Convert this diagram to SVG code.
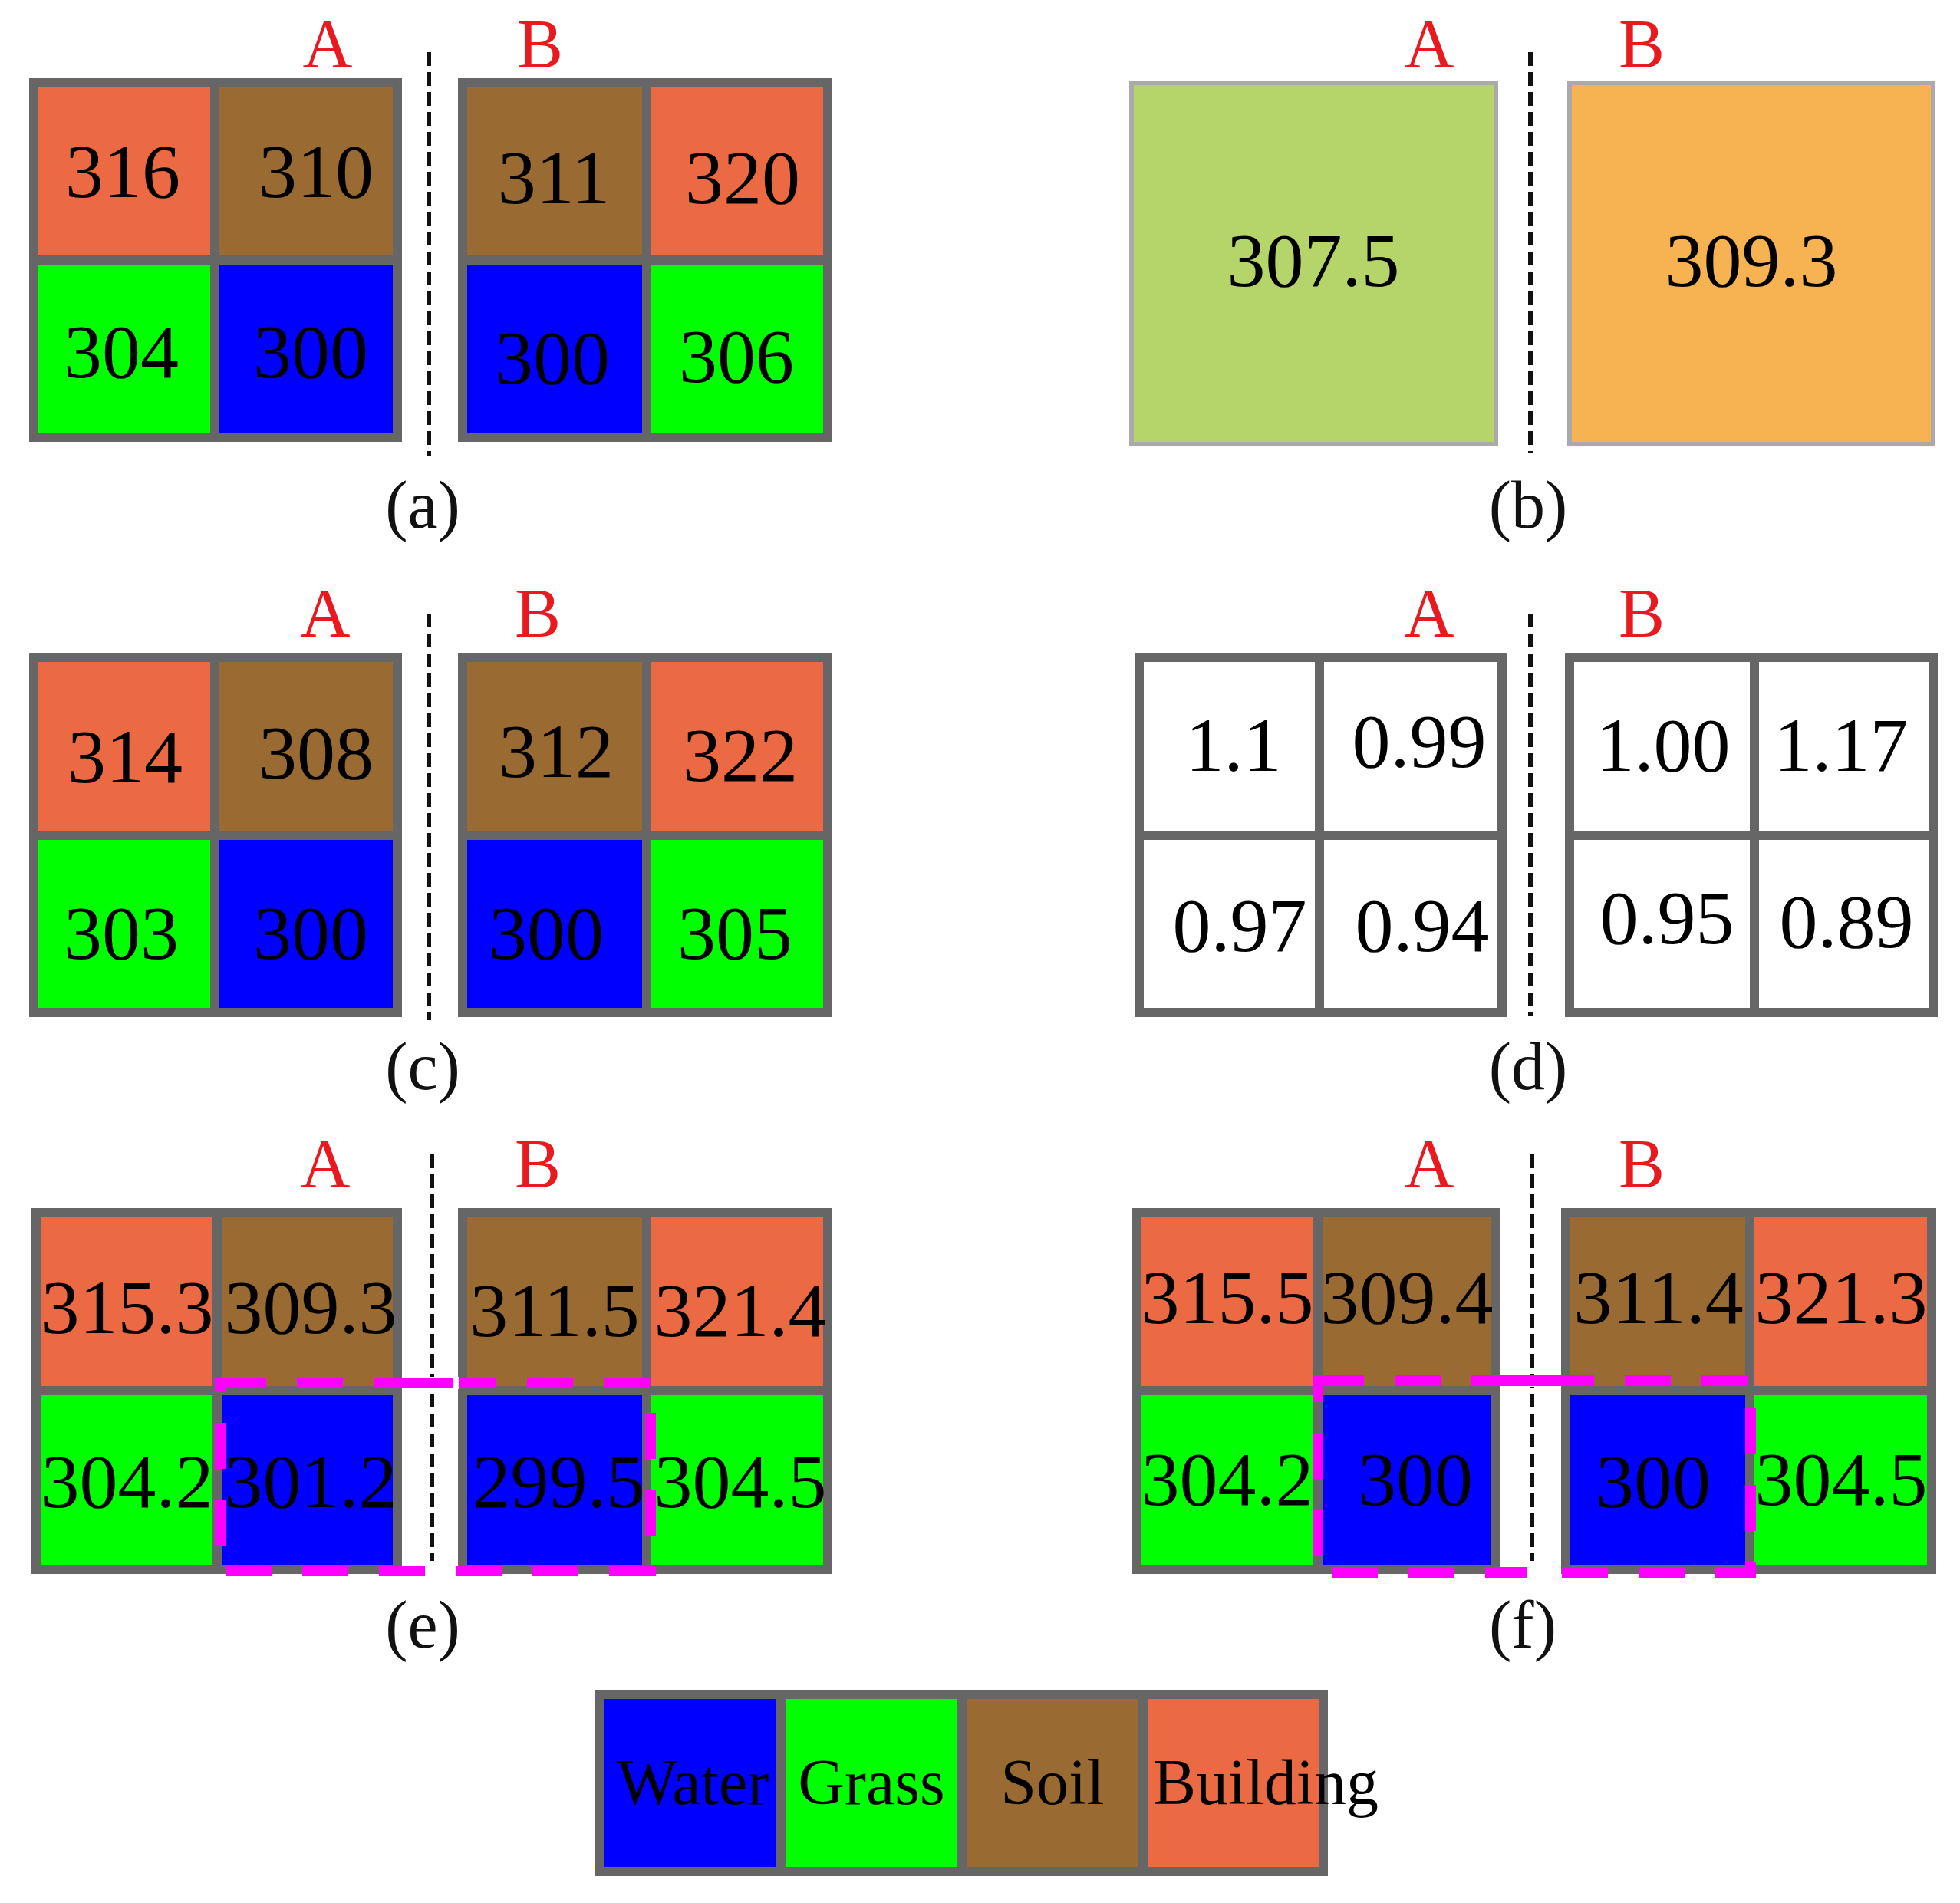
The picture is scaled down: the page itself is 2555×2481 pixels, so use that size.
<svg xmlns="http://www.w3.org/2000/svg" width="2555" height="2481" viewBox="0 0 2555 2481">
<style>
text{font-family:"Liberation Serif","Times New Roman",serif;text-anchor:middle}
.n{font-size:100px;fill:#000}
.ab{font-size:90px;fill:#e8191f}
.cap{font-size:88px;fill:#111}
.g{stroke:#666;stroke-width:12;fill:none}
.W{fill:#0000ff}.G{fill:#00ff00}.S{fill:#9a6a33}.B{fill:#ec6a43}.X{fill:#fff}
.dash{stroke:#111;stroke-width:6;stroke-dasharray:18 8}
.mag{stroke:#ff00ff;stroke-width:14;fill:none;stroke-dasharray:60 40}
</style>
<rect width="2555" height="2481" fill="#fff"/>
<g id="connectors">
<line class="dash" x1="559" y1="68" x2="559" y2="595"/>
<line class="dash" x1="1995" y1="68" x2="1995" y2="590"/>
<line class="dash" x1="559" y1="800" x2="559" y2="1330"/>
<line class="dash" x1="1995" y1="800" x2="1995" y2="1325"/>
<line class="dash" x1="563" y1="1505" x2="563" y2="2035"/>
<line class="dash" x1="1997" y1="1505" x2="1997" y2="2035"/>
</g>
<g id="panel-a">
<rect class="B" x="44" y="108" width="236" height="231"/><rect class="S" x="280" y="108" width="238" height="231"/>
<rect class="G" x="44" y="339" width="236" height="231"/><rect class="W" x="280" y="339" width="238" height="231"/>
<rect class="g" x="44" y="108" width="474" height="462"/><path class="g" d="M280 108V570M44 339H518"/>
<rect class="S" x="603" y="108" width="240" height="231"/><rect class="B" x="843" y="108" width="236" height="231"/>
<rect class="W" x="603" y="339" width="240" height="231"/><rect class="G" x="843" y="339" width="236" height="231"/>
<rect class="g" x="603" y="108" width="476" height="462"/><path class="g" d="M843 108V570M603 339H1079"/>
<text class="n" x="160" y="257">316</text><text class="n" x="412" y="257">310</text>
<text class="n" x="722" y="265">311</text><text class="n" x="968" y="265">320</text>
<text class="n" x="158" y="492">304</text><text class="n" x="405" y="492">300</text>
<text class="n" x="720" y="500">300</text><text class="n" x="960" y="498">306</text>
<text class="ab" x="427" y="88">A</text><text class="ab" x="704" y="88">B</text>
<text class="cap" x="551" y="688">(a)</text>
</g>
<g id="panel-b">
<rect x="1475" y="108" width="475" height="471" fill="#b5d56a" stroke="#aaa" stroke-width="6"/>
<rect x="2046" y="108" width="474" height="471" fill="#f7b352" stroke="#aaa" stroke-width="6"/>
<text class="n" x="1712" y="373">307.5</text><text class="n" x="2283" y="373">309.3</text>
<text class="ab" x="1863" y="88">A</text><text class="ab" x="2140" y="88">B</text>
<text class="cap" x="1992" y="688">(b)</text>
</g>
<g id="panel-c">
<rect class="B" x="44" y="857" width="236" height="232"/><rect class="S" x="280" y="857" width="238" height="232"/>
<rect class="G" x="44" y="1089" width="236" height="231"/><rect class="W" x="280" y="1089" width="238" height="231"/>
<rect class="g" x="44" y="857" width="474" height="463"/><path class="g" d="M280 857V1320M44 1089H518"/>
<rect class="S" x="603" y="857" width="240" height="232"/><rect class="B" x="843" y="857" width="236" height="232"/>
<rect class="W" x="603" y="1089" width="240" height="231"/><rect class="G" x="843" y="1089" width="236" height="231"/>
<rect class="g" x="603" y="857" width="476" height="463"/><path class="g" d="M843 857V1320M603 1089H1079"/>
<text class="n" x="163" y="1020">314</text><text class="n" x="412" y="1015">308</text>
<text class="n" x="725" y="1013">312</text><text class="n" x="965" y="1018">322</text>
<text class="n" x="158" y="1250">303</text><text class="n" x="405" y="1250">300</text>
<text class="n" x="712" y="1250">300</text><text class="n" x="958" y="1250">305</text>
<text class="ab" x="424" y="830">A</text><text class="ab" x="701" y="830">B</text>
<text class="cap" x="551" y="1420">(c)</text>
</g>
<g id="panel-d">
<rect class="g" x="1485" y="857" width="473" height="463" fill="#fff"/><path class="g" d="M1720 857V1320M1485 1089H1958"/>
<rect class="g" x="2046" y="857" width="474" height="463" fill="#fff"/><path class="g" d="M2287 857V1320M2046 1089H2520"/>
<text class="n" x="1608" y="1005">1.1</text><text class="n" x="1850" y="1000">0.99</text>
<text class="n" x="2168" y="1005">1.00</text><text class="n" x="2400" y="1005">1.17</text>
<text class="n" x="1616" y="1240">0.97</text><text class="n" x="1854" y="1240">0.94</text>
<text class="n" x="2173" y="1230">0.95</text><text class="n" x="2407" y="1235">0.89</text>
<text class="ab" x="1863" y="830">A</text><text class="ab" x="2140" y="830">B</text>
<text class="cap" x="1992" y="1420">(d)</text>
</g>
<g id="panel-e">
<rect class="B" x="47" y="1581" width="236" height="232"/><rect class="S" x="283" y="1581" width="235" height="232"/>
<rect class="G" x="47" y="1813" width="236" height="233"/><rect class="W" x="283" y="1813" width="235" height="233"/>
<rect class="g" x="47" y="1581" width="471" height="465"/><path class="g" d="M283 1581V2046M47 1813H518"/>
<rect class="S" x="603" y="1581" width="240" height="232"/><rect class="B" x="843" y="1581" width="236" height="232"/>
<rect class="W" x="603" y="1813" width="240" height="233"/><rect class="G" x="843" y="1813" width="236" height="233"/>
<rect class="g" x="603" y="1581" width="476" height="465"/><path class="g" d="M843 1581V2046M603 1813H1079"/>
<path class="mag" d="M287 1803H848V2048H287Z"/>
<line x1="548" y1="1803" x2="598" y2="1803" stroke="#fff" stroke-width="16"/>
<line x1="540" y1="1803" x2="590" y2="1803" stroke="#ff00ff" stroke-width="14"/>
<line x1="556" y1="2048" x2="586" y2="2048" stroke="#fff" stroke-width="16"/>
<text class="n" x="166" y="1738">315.3</text><text class="n" x="405" y="1738">309.3</text>
<text class="n" x="723" y="1742">311.5</text><text class="n" x="965" y="1742">321.4</text>
<text class="n" x="166" y="1965">304.2</text><text class="n" x="405" y="1965">301.2</text>
<text class="n" x="728" y="1965">299.5</text><text class="n" x="965" y="1965">304.5</text>
<text class="ab" x="424" y="1548">A</text><text class="ab" x="701" y="1548">B</text>
<text class="cap" x="551" y="2148">(e)</text>
</g>
<g id="panel-f">
<rect class="B" x="1482" y="1581" width="236" height="232"/><rect class="S" x="1718" y="1581" width="232" height="232"/>
<rect class="G" x="1482" y="1813" width="236" height="233"/><rect class="W" x="1718" y="1813" width="232" height="233"/>
<rect class="g" x="1482" y="1581" width="468" height="465"/><path class="g" d="M1718 1581V2046M1482 1813H1950"/>
<rect class="S" x="2041" y="1581" width="240" height="232"/><rect class="B" x="2281" y="1581" width="237" height="232"/>
<rect class="W" x="2041" y="1813" width="240" height="233"/><rect class="G" x="2281" y="1813" width="237" height="233"/>
<rect class="g" x="2041" y="1581" width="477" height="465"/><path class="g" d="M2281 1581V2046M2041 1813H2518"/>
<path class="mag" d="M1718 1800H2282V2050H1718Z"/>
<line x1="1975" y1="1800" x2="2020" y2="1800" stroke="#fff" stroke-width="16"/>
<line x1="1970" y1="1800" x2="2025" y2="1800" stroke="#ff00ff" stroke-width="14"/>
<line x1="1990" y1="2050" x2="2020" y2="2050" stroke="#fff" stroke-width="16"/>
<text class="n" x="1600" y="1725">315.5</text><text class="n" x="1834" y="1725">309.4</text>
<text class="n" x="2162" y="1725">311.4</text><text class="n" x="2400" y="1725">321.3</text>
<text class="n" x="1600" y="1962">304.2</text><text class="n" x="1845" y="1962">300</text>
<text class="n" x="2155" y="1965">300</text><text class="n" x="2400" y="1962">304.5</text>
<text class="ab" x="1863" y="1548">A</text><text class="ab" x="2140" y="1548">B</text>
<text class="cap" x="1985" y="2148">(f)</text>
</g>
<g id="legend">
<rect class="W" x="782" y="2209" width="236" height="231"/><rect class="G" x="1018" y="2209" width="236" height="231"/>
<rect class="S" x="1254" y="2209" width="236" height="231"/><rect class="B" x="1490" y="2209" width="235" height="231"/>
<rect class="g" x="782" y="2209" width="943" height="231"/><path class="g" d="M1018 2209V2440M1254 2209V2440M1490 2209V2440"/>
<g style="font-size:84px">
<text x="903" y="2352">Water</text><text x="1136" y="2352">Grass</text><text x="1372" y="2352">Soil</text><text x="1650" y="2352">Building</text>
</g>
</g>
</svg>
